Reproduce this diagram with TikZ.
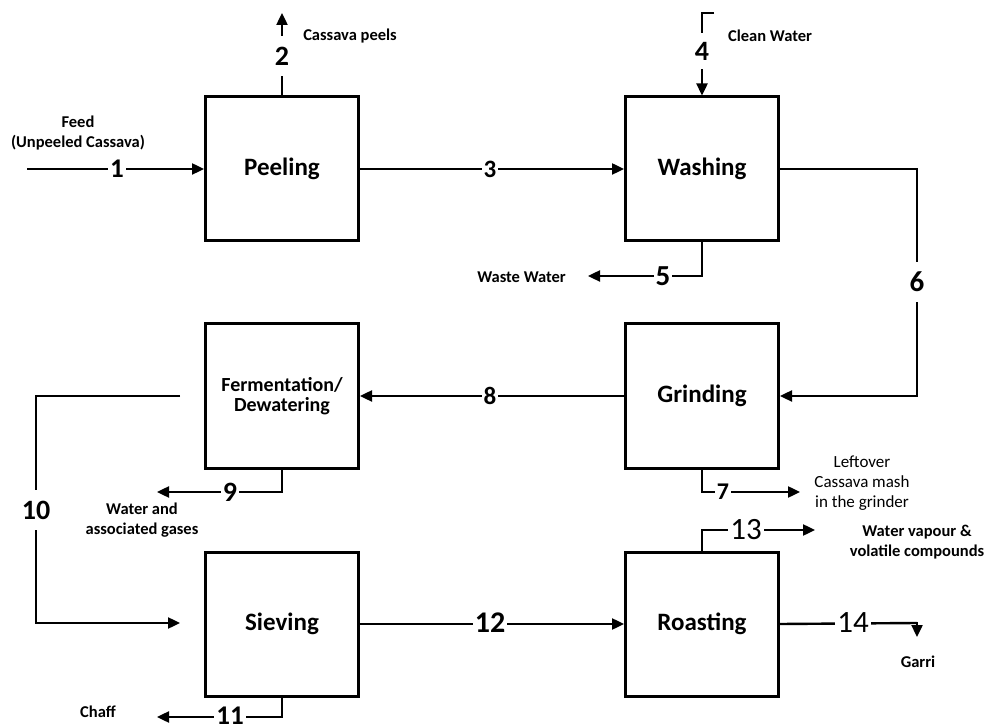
\documentclass[tikz,border=0pt]{standalone}
\usepackage{fontspec}
\setmainfont{Carlito}
\usetikzlibrary{arrows.meta}
\begin{document}
\begin{tikzpicture}[x=1pt,y=-1pt,
  box/.style={draw, line width=3pt, minimum width=153pt, minimum height=144pt, align=center, inner sep=0pt, font=\fontsize{25}{25}\selectfont\bfseries},
  flow/.style={line width=2.4pt},
  arr/.style={flow, -{Triangle[length=12pt,width=11pt]}},
  num/.style={fill=white, inner xsep=2pt, inner ysep=0pt, font=\fontsize{#1}{#1}\selectfont\bfseries},
  num/.default=28,
  numr/.style={fill=white, inner xsep=2pt, inner ysep=0pt, font=\fontsize{#1}{#1}\selectfont},
  numr/.default=31,
  lbl/.style={align=center, inner sep=0pt, font=\fontsize{16.5}{20}\selectfont\bfseries},
  lblr/.style={align=center, inner sep=0pt, font=\fontsize{17}{20}\selectfont}
]
\useasboundingbox (0,0) rectangle (986,727);
\fill[white] (0,0) rectangle (986,727);

% process boxes
\node[box] (peel)  at (282,169) {Peeling};
\node[box] (wash)  at (702,169) {Washing};
\node[box, font=\fontsize{20}{20}\selectfont\bfseries] (ferm) at (282,396) {Fermentation/\\Dewatering};
\node[box] (grind) at (702,396) {Grinding};
\node[box] (sieve) at (282,624) {Sieving};
\node[box] (roast) at (702,624) {Roasting};

% free ends
\coordinate (c1)  at (27,169);
\coordinate (c2)  at (282,13);
\coordinate (c4a) at (714,13);
\coordinate (c4b) at (702,13);
\coordinate (c5a) at (702,276);
\coordinate (c5b) at (588,276);
\coordinate (c6a) at (917,169);
\coordinate (c6b) at (917,396);
\coordinate (c7a) at (702,492);
\coordinate (c7b) at (800,492);
\coordinate (c9a) at (282,492);
\coordinate (c9b) at (157,492);
\coordinate (c10a) at (180,396);
\coordinate (c10b) at (36,396);
\coordinate (c10c) at (36,623);
\coordinate (c10d) at (180,623);
\coordinate (c11a) at (282,717);
\coordinate (c11b) at (157,717);
\coordinate (c13a) at (702,530);
\coordinate (c13b) at (815,530);
\coordinate (c14a) at (917,623);
\coordinate (c14b) at (917,637);

% connectors
\draw[arr] (c1) -- (peel.west);
\draw[arr] (peel.north) -- (c2);
\draw[arr] (peel.east) -- (wash.west);
\draw[arr] (c4a) -- (c4b) -- (wash.north);
\draw[arr] (wash.south) -- (c5a) -- (c5b);
\draw[arr] (wash.east) -- (c6a) -- (c6b) -- (grind.east);
\draw[arr] (grind.south) -- (c7a) -- (c7b);
\draw[arr] (grind.west) -- (ferm.east);
\draw[arr] (ferm.south) -- (c9a) -- (c9b);
\draw[arr] (c10a) -- (c10b) -- (c10c) -- (c10d);
\draw[arr] (sieve.south) -- (c11a) -- (c11b);
\draw[arr] (sieve.east) -- (roast.west);
\draw[arr] (roast.north) -- (c13a) -- (c13b);
\draw[flow] (roast.east) -- (c14a);
\draw[arr, shorten <=-1pt] (c14a) -- (c14b);

% stream numbers
\node[num=27] (n1) at (117,169) {1};
\node[num, inner ysep=11pt] (n2) at (282,56) {2};
\node[num=25] (n3) at (490,169) {3};
\node[num, inner ysep=9pt] (n4) at (702,51) {4};
\node[num=29] (n5) at (663,276) {5};
\node[num=29, inner ysep=10pt] (n6) at (917,282) {6};
\node[num=24] (n7) at (723,492) {7};
\node[num=25] (n8) at (490,396) {8};
\node[num] (n9) at (230,492) {9};
\node[num, inner ysep=11pt] (n10) at (36,510) {10};
\node[num=27] (n11) at (230,716) {11};
\node[num=30] (n12) at (490,623) {12};
\node[numr] (n13) at (746,530) {13};
\node[numr] (n14) at (853,623) {14};

% stream labels
\node[lbl] (tfeed) at (78,133) {Feed\\(Unpeeled Cassava)};
\node[lbl] (tpeels) at (350,36) {Cassava peels};
\node[lbl] (tclean) at (770,36) {Clean Water};
\node[lbl, anchor=east] (twaste) at (566,277) {Waste Water};
\node[lblr] (tleft) at (862,483) {Leftover\\Cassava mash\\in the grinder};
\node[lbl] (twater) at (142,520) {Water and\\associated gases};
\node[lbl] (tvap) at (917,542) {Water vapour \&\\volatile compounds};
\node[lbl] (tchaff) at (98,712) {Chaff};
\node[lbl] (tgarri) at (918,662) {Garri};
\end{tikzpicture}
\end{document}
